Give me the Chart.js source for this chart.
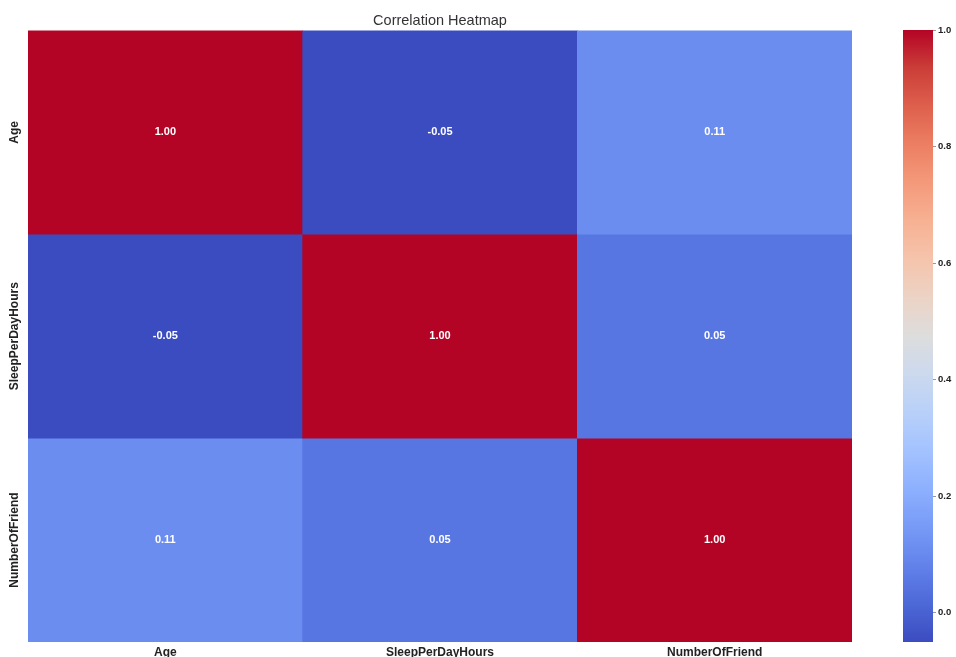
<!DOCTYPE html>
<html>
<head>
<meta charset="utf-8">
<script src="https://cdn.jsdelivr.net/npm/chart.js@4"></script>
<style>
  html, body { margin: 0; padding: 0; background: #fff; }
  #wrap { position: relative; width: 956px; height: 657px; overflow: hidden; }
  #heat { position: absolute; left: 0; top: 0; }
  #bar { position: absolute; left: 895px; top: 0; }
</style>
</head>
<body>
<div id="wrap">
  <canvas id="heat" width="860" height="657"></canvas>
  <canvas id="bar" width="61" height="657"></canvas>
</div>
<script>
// Variables shown on both axes, top-to-bottom / left-to-right
const variables = ['Age', 'SleepPerDayHours', 'NumberOfFriend'];

// Pearson correlation coefficients, one row per variable
const rowAge = [1.00, -0.05, 0.11];
const rowSleep = [-0.05, 1.00, 0.05];
const rowFriends = [0.11, 0.05, 1.00];
const matrix = [rowAge, rowSleep, rowFriends];

// Colour scale range and colourbar ticks
const scaleMin = -0.05;
const scaleMax = 1.0;
const colorbarTicks = [0.0, 0.2, 0.4, 0.6, 0.8, 1.0];

// coolwarm colormap control points (position, r, g, b)
const coolwarm = [
  [0.0, 59, 76, 192], [0.0625, 77, 104, 215], [0.125, 98, 130, 234],
  [0.1875, 119, 154, 247], [0.25, 141, 176, 254], [0.3125, 163, 194, 255],
  [0.375, 184, 208, 249], [0.4375, 204, 217, 238], [0.5, 221, 221, 221],
  [0.5625, 236, 211, 197], [0.625, 245, 196, 172], [0.6875, 247, 177, 147],
  [0.75, 244, 154, 123], [0.8125, 236, 127, 99], [0.875, 222, 96, 77],
  [0.9375, 203, 62, 56], [1.0, 180, 4, 38]
];

function cmap(t) {
  t = Math.max(0, Math.min(1, t));
  for (let i = 1; i < coolwarm.length; i++) {
    const a = coolwarm[i - 1], b = coolwarm[i];
    if (t <= b[0]) {
      const f = (t - a[0]) / (b[0] - a[0]);
      const c = [1, 2, 3].map(k => Math.round(a[k] + (b[k] - a[k]) * f));
      return `rgb(${c[0]},${c[1]},${c[2]})`;
    }
  }
  return 'rgb(180,4,38)';
}
const colorFor = v => cmap((v - scaleMin) / (scaleMax - scaleMin));

const FONT = "'Liberation Sans', Arial, sans-serif";

// Each row of the matrix is one stacked dataset of unit-height cells
const datasets = matrix.map((row, r) => ({
  label: variables[r],
  data: row.map(() => 1),
  values: row,
  backgroundColor: row.map(colorFor),
  borderWidth: 0,
  barPercentage: 1,
  categoryPercentage: 1
}));

// Writes the coefficient inside each cell
const cellLabels = {
  id: 'cellLabels',
  afterDatasetsDraw(chart) {
    const ctx = chart.ctx;
    ctx.save();
    ctx.fillStyle = '#ffffff';
    ctx.font = `bold 11px ${FONT}`;
    ctx.textAlign = 'center';
    ctx.textBaseline = 'middle';
    chart.data.datasets.forEach((ds, di) => {
      chart.getDatasetMeta(di).data.forEach((el, i) => {
        const cy = (el.y + el.base) / 2;
        ctx.fillText(ds.values[i].toFixed(2), el.x, cy);
      });
    });
    ctx.restore();
  }
};

// Rotated row names on the left side
const rowLabels = {
  id: 'rowLabels',
  afterDraw(chart) {
    const ctx = chart.ctx;
    const y = chart.scales.y;
    ctx.save();
    ctx.fillStyle = '#222';
    ctx.font = `bold 12px ${FONT}`;
    ctx.textAlign = 'center';
    ctx.textBaseline = 'middle';
    variables.forEach((name, r) => {
      ctx.save();
      ctx.translate(15, y.getPixelForValue(r + 0.5));
      ctx.rotate(-Math.PI / 2);
      ctx.fillText(name, 0, 0);
      ctx.restore();
    });
    ctx.restore();
  }
};

new Chart(document.getElementById('heat'), {
  type: 'bar',
  data: { labels: variables, datasets },
  plugins: [cellLabels, rowLabels],
  options: {
    responsive: false,
    animation: false,
    events: [],
    layout: { padding: { left: 28, right: 8, top: 0, bottom: 0 } },
    plugins: {
      legend: { display: false },
      tooltip: { enabled: false },
      title: {
        display: true,
        text: 'Correlation Heatmap',
        color: '#333',
        font: { family: FONT, size: 14.5, weight: 'normal' },
        padding: { top: 12, bottom: 1 }
      }
    },
    scales: {
      x: {
        stacked: true,
        grid: { display: false, drawTicks: false },
        border: { display: false },
        ticks: { color: '#222', padding: 3, font: { family: FONT, size: 12, weight: 'bold' }, maxRotation: 0 },
        afterFit(s) { s.height = 15; }
      },
      y: {
        stacked: true,
        display: false,
        min: 0,
        max: variables.length,
        reverse: true
      }
    }
  }
});

// Colourbar: one floating bar spanning the full value range
new Chart(document.getElementById('bar'), {
  type: 'bar',
  data: {
    labels: [''],
    datasets: [{
      data: [[scaleMin, scaleMax]],
      borderWidth: 0,
      barPercentage: 1,
      categoryPercentage: 1,
      backgroundColor(ctx) {
        const area = ctx.chart.chartArea;
        if (!area) return '#888';
        const g = ctx.chart.ctx.createLinearGradient(0, area.bottom, 0, area.top);
        coolwarm.forEach(p => g.addColorStop(p[0], `rgb(${p[1]},${p[2]},${p[3]})`));
        return g;
      }
    }]
  },
  options: {
    responsive: false,
    animation: false,
    events: [],
    layout: { padding: { left: 8, right: 0, top: 30, bottom: 15 } },
    plugins: { legend: { display: false }, tooltip: { enabled: false } },
    scales: {
      x: { display: false },
      y: {
        position: 'right',
        min: scaleMin,
        max: scaleMax,
        afterBuildTicks(s) { s.ticks = colorbarTicks.map(v => ({ value: v })); },
        afterFit(s) { s.width = 23; },
        grid: { drawOnChartArea: false, drawTicks: true, tickLength: 3, color: '#999' },
        border: { display: false },
        ticks: {
          color: '#222',
          padding: 2,
          font: { family: FONT, size: 9.5, weight: 'bold' },
          callback: v => Number(v).toFixed(1)
        }
      }
    }
  }
});
</script>
</body>
</html>
